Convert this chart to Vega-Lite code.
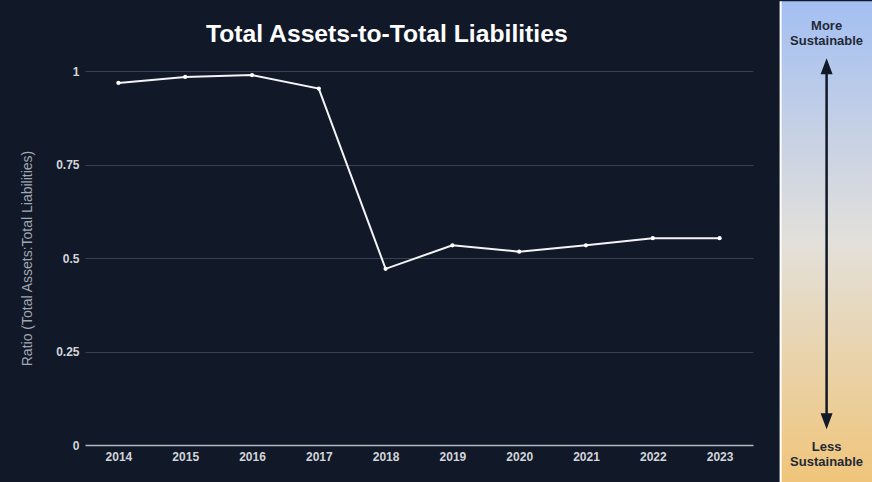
{
  "$schema": "https://vega.github.io/schema/vega-lite/v6.json",
  "background": "#111827",
  "padding": {"left": 20, "top": 0, "right": 0, "bottom": 0},
  "spacing": 26.6,
  "config": {"view": {"stroke": null}, "font": "Liberation Sans"},
  "hconcat": [
    {
      "width": 668,
      "height": 374,
      "title": {"text": "Total Assets-to-Total Liabilities", "fontSize": 24.7, "fontWeight": "bold", "color": "#ffffff", "offset": 18, "anchor": "middle", "frame": "bounds", "font": "Liberation Sans"},
      "data": {"values": [
        {"year": "2014", "ratio": 0.968},
        {"year": "2015", "ratio": 0.984},
        {"year": "2016", "ratio": 0.989},
        {"year": "2017", "ratio": 0.953},
        {"year": "2018", "ratio": 0.471},
        {"year": "2019", "ratio": 0.534},
        {"year": "2020", "ratio": 0.517},
        {"year": "2021", "ratio": 0.534},
        {"year": "2022", "ratio": 0.553},
        {"year": "2023", "ratio": 0.553}
      ]},
      "encoding": {
        "x": {"field": "year", "type": "ordinal", "scale": {"type": "point", "padding": 0.5},
          "axis": {"title": null, "labelAngle": 0, "ticks": false, "domain": false, "grid": false, "labelPadding": 6, "labelFontSize": 12, "labelFontWeight": "bold", "labelColor": "#d1d5db"}},
        "y": {"field": "ratio", "type": "quantitative", "scale": {"domain": [0, 1]},
          "axis": {"title": "Ratio (Total Assets:Total Liabilities)", "values": [0, 0.25, 0.5, 0.75, 1], "labelExpr": "'' + datum.value", "ticks": false, "tickSize": 0, "domain": false, "labelPadding": 6, "labelFontSize": 12, "labelFontWeight": "bold", "labelColor": "#d1d5db", "titleFontSize": 14, "titleFontWeight": "normal", "titleColor": "#a1a7b3", "titlePadding": 21,
            "gridColor": {"condition": {"test": "datum.value === 0", "value": "#b4b8c0"}, "value": "#374151"},
            "gridWidth": {"condition": {"test": "datum.value === 0", "value": 1.5}, "value": 1}}}
      },
      "layer": [
        {"mark": {"type": "line", "color": "#f3f4f6", "strokeWidth": 2}},
        {"mark": {"type": "point", "filled": true, "color": "#ffffff", "size": 18, "opacity": 1}}
      ]
    },
    {
      "width": 92,
      "height": 374,
      "data": {"values": [{"top": "More\nSustainable", "bottom": "Less\nSustainable"}]},
      "layer": [
        {
          "mark": {"type": "rect", "color": {"gradient": "linear", "x1": 0, "y1": 0, "x2": 0, "y2": 1, "stops": [{"offset": 0, "color": "#a3bff2"}, {"offset": 0.5, "color": "#e3e0da"}, {"offset": 1, "color": "#f0c57a"}]}},
          "encoding": {
            "x": {"datum": 0, "type": "quantitative", "scale": {"domain": [0, 1]}, "axis": null},
            "x2": {"datum": 1},
            "y": {"datum": 1.1864, "type": "quantitative", "scale": {"domain": [0, 1], "nice": false, "zero": false}, "axis": null},
            "y2": {"datum": -0.102}
          }
        },
        {
          "mark": {"type": "rule", "color": "#ffffff", "strokeWidth": 2},
          "encoding": {"x": {"datum": 0, "type": "quantitative"}, "y": {"datum": 1.1864, "type": "quantitative"}, "y2": {"datum": -0.102}}
        },
        {
          "mark": {"type": "rule", "color": "#111827", "strokeWidth": 2.5},
          "encoding": {"x": {"datum": 0.5, "type": "quantitative"}, "y": {"datum": 0.9992, "type": "quantitative"}, "y2": {"datum": 0.0767}}
        },
        {
          "mark": {"type": "point", "shape": "M0,-1L0.75,1L-0.75,1Z", "size": 256, "filled": true, "color": "#111827", "opacity": 1, "strokeWidth": 0},
          "encoding": {"x": {"datum": 0.5, "type": "quantitative"}, "y": {"datum": 1.0126, "type": "quantitative"}}
        },
        {
          "mark": {"type": "point", "shape": "M0,1L0.75,-1L-0.75,-1Z", "size": 256, "filled": true, "color": "#111827", "opacity": 1, "strokeWidth": 0},
          "encoding": {"x": {"datum": 0.5, "type": "quantitative"}, "y": {"datum": 0.0634, "type": "quantitative"}}
        },
        {
          "mark": {"type": "text", "fontSize": 13, "fontWeight": "bold", "color": "#1f2937", "lineBreak": "\n", "lineHeight": 15, "baseline": "middle", "align": "center"},
          "encoding": {"x": {"datum": 0.5, "type": "quantitative"}, "y": {"datum": 1.1195, "type": "quantitative"}, "text": {"field": "top"}}
        },
        {
          "mark": {"type": "text", "fontSize": 13, "fontWeight": "bold", "color": "#1f2937", "lineBreak": "\n", "lineHeight": 15, "baseline": "middle", "align": "center"},
          "encoding": {"x": {"datum": 0.5, "type": "quantitative"}, "y": {"datum": -0.0061, "type": "quantitative"}, "text": {"field": "bottom"}}
        }
      ]
    }
  ]
}
